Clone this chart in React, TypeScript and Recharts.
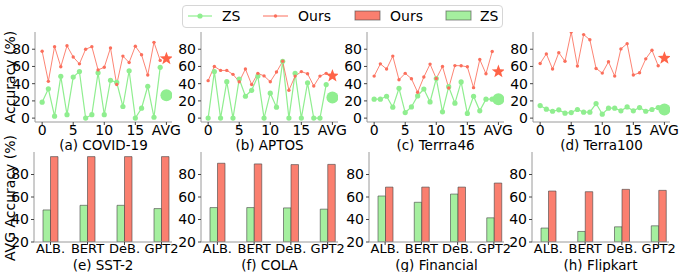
import React from 'react'
import { ComposedChart, Line, XAxis, YAxis, BarChart, Bar } from 'recharts'

// prompt index 0..19, AVG sits at 20
const steps = [0, 1, 2, 3, 4, 5, 6, 7, 8, 9, 10, 11, 12, 13, 14, 15, 16, 17, 18, 19]
const lineTicks = [0, 5, 10, 15, 20]
const accTicks = [0, 20, 40, 60, 80]

const covidOurs = [77.7, 42.7, 83, 59.6, 84, 71, 63, 80, 83, 56, 59, 81.5, 39, 72, 64.6, 83.5, 73.5, 50, 88, 67]
const covidZs = [18.5, 34, 2.3, 48.5, 4, 47.7, 54, 0, 4, 52.7, 4, 44, 41.5, 13.5, 55, 0, 11.5, 37, 1, 59]
const aptosOurs = [43.5, 60, 55.4, 55.4, 50.8, 42.3, 57, 39, 52, 49, 42.3, 53.5, 66, 32.3, 48.8, 54, 51.5, 37.3, 48.8, 52]
const aptosZs = [0, 54, 0, 42.3, 0, 45.4, 25.4, 32.3, 48.8, 0, 29, 12.7, 66, 0, 52, 0, 41, 0, 0, 39]
const terra46Ours = [48.8, 63, 57, 72, 44.6, 52, 45.8, 30, 47.7, 62.7, 46, 60, 35, 61, 60.8, 59.6, 35.4, 68, 51.5, 77.3]
const terra46Zs = [22, 22, 25.4, 12.7, 34.6, 6.5, 13, 25.8, 33.8, 18.8, 46, 7.3, 36.5, 17.3, 42, 5.4, 25.4, 8.5, 22, 22]
const terra100Ours = [63.5, 74.6, 57, 76, 66, 100, 60.4, 97, 91, 57.7, 52.3, 65.4, 48.8, 80.4, 86.5, 50, 52.7, 68.8, 78.8, 60.8]
const terra100Zs = [14.6, 10.4, 8, 9.6, 5.8, 6.5, 10, 6.9, 6.9, 16.9, 4.6, 11.5, 11.5, 8.5, 13, 8.5, 12.3, 8, 10, 12.3]
// [ours, zs] averages
const covidAvg = [69, 26.5]
const aptosAvg = [49, 24]
const terra46Avg = [54, 22]
const terra100Avg = [69.6, 10]

const models = ['ALB.', 'BERT', 'DeB.', 'GPT2']
const barTicks = [20, 40, 60, 80]
const sst2Zs = [48.5, 52.6, 52.6, 49.7]
const sst2Ours = [95.9, 95.9, 95.9, 95.9]
const colaZs = [50.6, 50.6, 50.3, 49.2]
const colaOurs = [90, 89.4, 88.8, 89]
const financialZs = [60.9, 55.3, 62.6, 41.5]
const financialOurs = [68.8, 68.8, 68.8, 72.4]
const flipkartZs = [32.4, 29.4, 33.5, 34.4]
const flipkartOurs = [65.3, 64.7, 66.8, 65.9]

const ZS = '#90ee90'
const OURS = '#fb6f5c'
const STAR = '#ff6347'
const OURS_BAR = '#fa7f6f'
const ZS_BAR = '#a5ef9f'
const FRAME = '#9a9a9a'
const FONT = 'DejaVu Sans'

const tickStyle = { fontSize: 14, fill: '#000', fontFamily: FONT }
const catTickStyle = { fontSize: 13, fill: '#000', fontFamily: FONT }
const titleStyle = { fontSize: 13.5, fill: '#000', fontFamily: FONT }
const AXIS_W = 38
const X_H = 28
const PAD = 4
const RIGHT = 20
const BOTTOM = 6

const starDot = (props: any) => {
	const { cx, cy, index } = props
	if (cx == null || cy == null) return <g key={`s-${index}`} />
	const pts: string[] = []
	for (let k = 0; k < 10; k++) {
		const r = k % 2 === 0 ? 7 : 2.9
		const a = -Math.PI / 2 + (k * Math.PI) / 5
		pts.push(`${cx + r * Math.cos(a)},${cy + r * Math.sin(a)}`)
	}
	return <polygon key={`s-${index}`} points={pts.join(' ')} fill={STAR} />
}

const frameAxes = [
	<XAxis key="xt" xAxisId="top" orientation="top" height={0} tick={false} tickLine={false} axisLine={{ stroke: FRAME }} />,
	<YAxis key="yr" yAxisId="r" orientation="right" width={0} tick={false} tickLine={false} axisLine={{ stroke: FRAME }} />,
]

type LineProps = {
	ours: number[]
	zs: number[]
	avg: number[]
	title: string
	left: number
	top: number
	w: number
	h: number
}

const LinePanel = ({ ours, zs, avg, title, left, top, w, h }: LineProps) => {
	const data: any[] = steps.map((x, i) => ({ x, ours: ours[i], zs: zs[i] }))
	data.push({ x: 20, avgOurs: avg[0], avgZs: avg[1] })
	return (
		<div style={{ position: 'absolute', left: left - AXIS_W, top: top - PAD }}>
			<ComposedChart
				width={AXIS_W + w + RIGHT}
				height={PAD + h + X_H + BOTTOM}
				data={data}
				margin={{ top: PAD, right: RIGHT, left: 0, bottom: BOTTOM }}
			>
				<XAxis
					dataKey="x"
					type="number"
					domain={[-1.15, 20.9]}
					ticks={lineTicks}
					interval={0}
					allowDataOverflow
					tickFormatter={(v: number) => (v === 20 ? 'AVG' : String(v))}
					tick={tickStyle}
					tickSize={3}
					tickMargin={0}
					tickLine={{ stroke: '#444' }}
					axisLine={{ stroke: FRAME }}
					height={X_H}
					label={{ value: title, position: 'insideBottom', offset: 0, ...titleStyle }}
				/>
				<YAxis
					type="number"
					domain={[-4.5, 100]}
					ticks={accTicks}
					interval={0}
					allowDataOverflow
					width={AXIS_W}
					tick={tickStyle}
					tickSize={3}
					tickMargin={2}
					tickLine={{ stroke: '#444' }}
					axisLine={{ stroke: FRAME }}
				/>
				{frameAxes}
				<Line dataKey="zs" stroke={ZS} strokeWidth={1.2} dot={{ r: 2.6, fill: ZS, stroke: 'none' }} activeDot={false} isAnimationActive={false} />
				<Line dataKey="ours" stroke={OURS} strokeOpacity={0.85} strokeWidth={1} dot={{ r: 1.7, fill: OURS, stroke: 'none' }} activeDot={false} isAnimationActive={false} />
				<Line dataKey="avgZs" stroke="none" dot={{ r: 6, fill: ZS, stroke: 'none' }} activeDot={false} isAnimationActive={false} />
				<Line dataKey="avgOurs" stroke="none" dot={starDot} activeDot={false} isAnimationActive={false} />
			</ComposedChart>
		</div>
	)
}

type BarProps = {
	ours: number[]
	zs: number[]
	title: string
	left: number
	top: number
	w: number
	h: number
}

const BarPanel = ({ ours, zs, title, left, top, w, h }: BarProps) => {
	const data = models.map((m, i) => ({ m, zs: zs[i], ours: ours[i] }))
	return (
		<div style={{ position: 'absolute', left: left - AXIS_W, top: top - PAD }}>
			<BarChart
				width={AXIS_W + w + RIGHT}
				height={PAD + h + X_H + BOTTOM}
				data={data}
				margin={{ top: PAD, right: RIGHT, left: 0, bottom: BOTTOM }}
				barGap={0}
				barSize={7.5}
			>
				<XAxis
					dataKey="m"
					interval={0}
					padding={{ left: -2, right: -8 }}
					tick={catTickStyle}
					tickSize={3}
					tickMargin={-1}
					tickLine={{ stroke: '#444' }}
					axisLine={{ stroke: FRAME }}
					height={X_H}
					label={{ value: title, position: 'insideBottom', offset: 0, ...titleStyle }}
				/>
				<YAxis
					type="number"
					domain={[20, 100]}
					ticks={barTicks}
					interval={0}
					allowDataOverflow
					width={AXIS_W}
					tick={tickStyle}
					tickSize={3}
					tickMargin={2}
					tickLine={{ stroke: '#444' }}
					axisLine={{ stroke: FRAME }}
				/>
				{frameAxes}
				<Bar dataKey="zs" fill={ZS_BAR} stroke="#444" strokeOpacity={0.6} isAnimationActive={false} />
				<Bar dataKey="ours" fill={OURS_BAR} stroke="#444" strokeOpacity={0.6} isAnimationActive={false} />
			</BarChart>
		</div>
	)
}

const VLabel = ({ text, x, y }: { text: string; x: number; y: number }) => (
	<div
		style={{
			position: 'absolute',
			left: x,
			top: y,
			transform: 'translate(-50%, -50%) rotate(-90deg)',
			whiteSpace: 'nowrap',
			fontSize: 14,
			lineHeight: '16px',
		}}
	>
		{text}
	</div>
)

const TopLegend = () => (
	<div
		style={{
			position: 'absolute',
			left: 182,
			top: 5,
			width: 321,
			height: 23,
			border: '1px solid #d6d6d6',
			borderRadius: 4,
			background: '#fff',
			boxSizing: 'border-box',
		}}
	>
		<svg width={321} height={23} style={{ position: 'absolute', left: -1, top: -1 }} fontFamily={FONT}>
			<line x1={6} x2={30} y1={11} y2={11} stroke={ZS} strokeWidth={1.2} />
			<circle cx={18} cy={11} r={2.6} fill={ZS} />
			<text x={40} y={16} fontSize={14}>ZS</text>
			<line x1={81} x2={106} y1={11} y2={11} stroke={OURS} strokeWidth={1} />
			<circle cx={93.5} cy={11} r={1.7} fill={OURS} />
			<text x={116} y={16} fontSize={14}>Ours</text>
			<rect x={173} y={6} width={25} height={9} fill={OURS_BAR} stroke="#444" strokeOpacity={0.6} />
			<text x={208} y={16} fontSize={14}>Ours</text>
			<rect x={264} y={6} width={25} height={9} fill={ZS_BAR} stroke="#444" strokeOpacity={0.6} />
			<text x={298} y={16} fontSize={14}>ZS</text>
		</svg>
	</div>
)

const App = () => (
	<div
		style={{
			position: 'absolute',
			left: 0,
			top: 0,
			width: 685,
			height: 272,
			background: '#fff',
			fontFamily: FONT,
			overflow: 'hidden',
		}}
	>
		<VLabel text="Accuracy (%)" x={10} y={77} />
		<VLabel text="AVG Accuracy (%)" x={10} y={198} />
		<LinePanel ours={covidOurs} zs={covidZs} avg={covidAvg} title="(a) COVID-19" left={35} top={32} w={137} h={90} />
		<LinePanel ours={aptosOurs} zs={aptosZs} avg={aptosAvg} title="(b) APTOS" left={201} top={32} w={137} h={90} />
		<LinePanel ours={terra46Ours} zs={terra46Zs} avg={terra46Avg} title="(c) Terrra46" left={367} top={32} w={137} h={90} />
		<LinePanel ours={terra100Ours} zs={terra100Zs} avg={terra100Avg} title="(d) Terra100" left={533} top={32} w={137} h={90} />
		<BarPanel ours={sst2Ours} zs={sst2Zs} title="(e) SST-2" left={34} top={152} w={138} h={90} />
		<BarPanel ours={colaOurs} zs={colaZs} title="(f) COLA" left={201} top={152} w={137} h={90} />
		<BarPanel ours={financialOurs} zs={financialZs} title="(g) Financial" left={369} top={152} w={135} h={90} />
		<BarPanel ours={flipkartOurs} zs={flipkartZs} title="(h) Flipkart" left={532} top={152} w={137} h={90} />
		<TopLegend />
	</div>
)

export default App
